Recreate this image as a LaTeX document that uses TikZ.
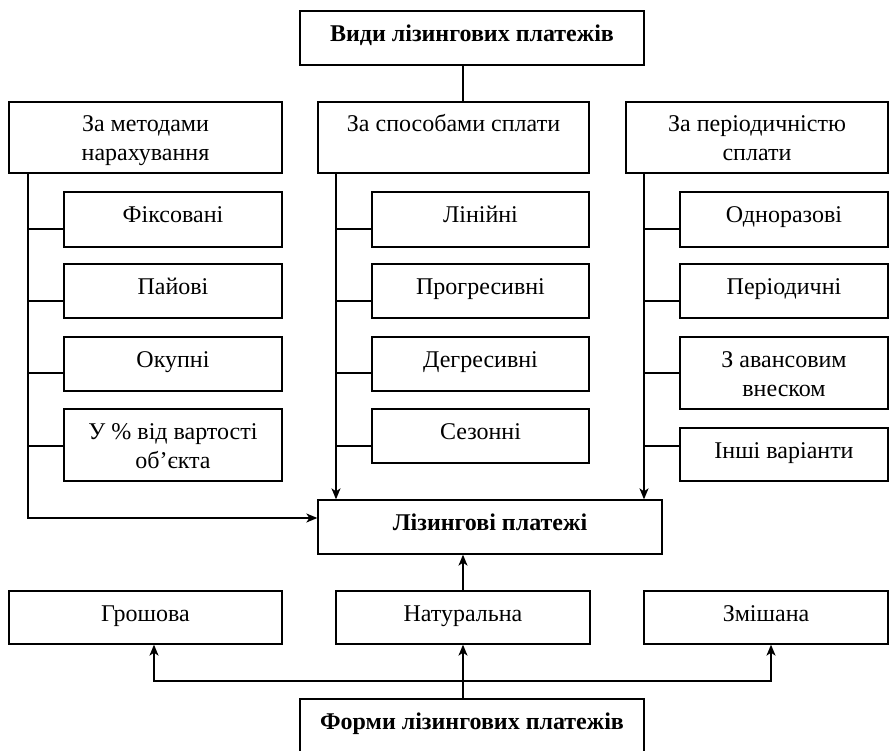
\documentclass[tikz,border=0pt]{standalone}
\usepackage{fontspec}
\setmainfont{Liberation Serif}
\usetikzlibrary{arrows.meta}
\tikzset{
  box/.style={draw, line width=1.3pt, inner sep=0pt, align=center,
    font=\fontsize{24}{29}\selectfont, text height=15pt, text depth=8pt},
  bbox/.style={box, font=\fontsize{24}{29}\selectfont\bfseries},
  twocat/.style={box, font=\fontsize{24}{29}\selectfont, text height=52pt, text depth=5pt},
  twosub/.style={box, font=\fontsize{24}{29}\selectfont, text height=51pt, text depth=5pt},
  conn/.style={line width=1.3pt},
  arr/.style={line width=1.6pt, -{Stealth[length=11pt,width=9pt,inset=3pt]}},
}
\newcommand{\bx}[6]{\node[#1, minimum width=#4pt, minimum height=#5pt] (#2) at (#3) {#6};}
\begin{document}
\begin{tikzpicture}[x=1pt,y=-1pt]
\useasboundingbox (0,0) rectangle (889,751);
% top
\bx{bbox}{top}{472,38}{344}{54}{Види лізингових платежів}
\bx{twocat}{lcat}{145.5,137.5}{273}{71}{За методами\\нарахування}
\bx{twocat}{mcat}{453.5,137.5}{271}{71}{За способами сплати\\\mbox{}}
\bx{twocat}{rcat}{757,137.5}{262}{71}{За періодичністю\\сплати}
% left column
\bx{box}{l1}{173,219.5}{218}{55}{Фіксовані}
\bx{box}{l2}{173,291}{218}{54}{Пайові}
\bx{box}{l3}{173,364}{218}{54}{Окупні}
\bx{twosub}{l4}{173,445}{218}{72}{У \% від вартості\\об’єкта}
% middle column
\bx{box}{m1}{480.5,219.5}{217}{55}{Лінійні}
\bx{box}{m2}{480.5,291}{217}{54}{Прогресивні}
\bx{box}{m3}{480.5,364}{217}{54}{Дегресивні}
\bx{box}{m4}{480.5,436}{217}{54}{Сезонні}
% right column
\bx{box}{r1}{784,219.5}{208}{55}{Одноразові}
\bx{box}{r2}{784,291}{208}{54}{Періодичні}
\bx{twosub}{r3}{784,373}{208}{72}{З авансовим\\внеском}
\bx{box}{r4}{784,454.5}{208}{53}{Інші варіанти}
% centre
\bx{bbox}{liz}{490,527}{344}{54}{Лізингові платежі}
\bx{box}{hr}{145.5,617.5}{273}{53}{Грошова}
\bx{box}{nat}{463,617.5}{254}{53}{Натуральна}
\bx{box}{zm}{766,617.5}{244}{53}{Змішана}
\bx{bbox}{form}{472,726}{344}{54}{Форми лізингових платежів}
% helper coordinates
\coordinate (lx) at (28,0);
\coordinate (mx) at (336,0);
\coordinate (rx) at (644,0);
\coordinate (cx) at (463,0);
\coordinate (y1) at (0,229);
\coordinate (y2) at (0,301);
\coordinate (y3) at (0,373);
\coordinate (y4) at (0,446);
\coordinate (ya) at (0,518);
\coordinate (yb) at (0,681);
\coordinate (hx) at (154,0);
\coordinate (zx) at (771,0);
% top link
\draw[conn] (top.south -| cx) -- (mcat.north -| cx);
% left spine
\draw[arr] (lcat.south -| lx) |- (liz.west |- ya);
\foreach \b/\y in {l1/y1,l2/y2,l3/y3,l4/y4} \draw[conn] (lx |- \y) -- (\b.west |- \y);
% middle spine
\draw[arr] (mcat.south -| mx) -- (liz.north -| mx);
\foreach \b/\y in {m1/y1,m2/y2,m3/y3,m4/y4} \draw[conn] (mx |- \y) -- (\b.west |- \y);
% right spine
\draw[arr] (rcat.south -| rx) -- (liz.north -| rx);
\foreach \b/\y in {r1/y1,r2/y2,r3/y3,r4/y4} \draw[conn] (rx |- \y) -- (\b.west |- \y);
% bottom
\draw[arr] (nat.north -| cx) -- (liz.south -| cx);
\draw[arr] (form.north -| cx) -- (nat.south -| cx);
\draw[arr] (cx |- yb) -| (hr.south -| hx);
\draw[arr] (cx |- yb) -| (zm.south -| zx);
\end{tikzpicture}
\end{document}
